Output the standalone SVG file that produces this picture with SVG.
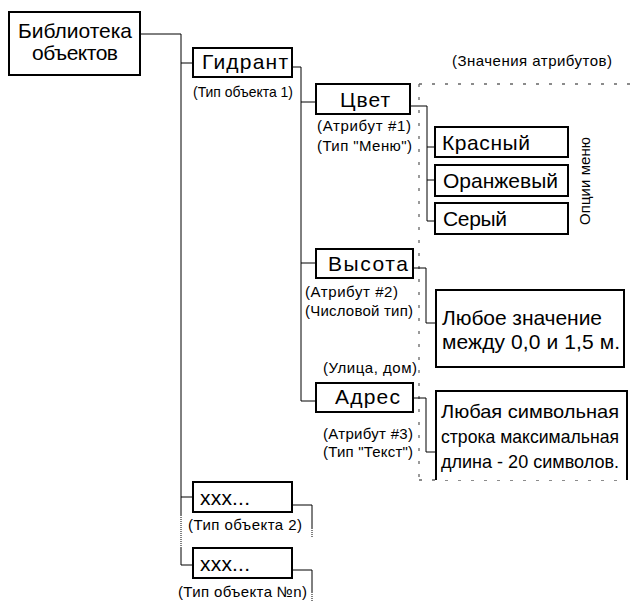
<svg xmlns="http://www.w3.org/2000/svg" width="631" height="602" viewBox="0 0 631 602">
<style>
.box{fill:#fff;stroke:#000;stroke-width:2}
.ln{fill:none;stroke:#000;stroke-width:1}
.dot{fill:none;stroke:#666;stroke-width:1.3;stroke-dasharray:3 10}
.fine{fill:none;stroke:#000;stroke-width:1;stroke-dasharray:1 1}
text{font-family:"Liberation Sans",Arial,sans-serif;fill:#000}
.big{font-size:21px}
.sm{font-size:15px}
</style>
<rect width="631" height="602" fill="#fff"/>
<g id="dotted-region">
<path class="dot" d="M419 84 H631"/>
<path class="dot" d="M419 84 V480"/>
<path class="dot" d="M419 480 H626"/>
</g>
<g id="connectors">
<path class="ln" d="M140 34 H181 V515"/>
<path class="fine" d="M181 515 V548"/>
<path class="ln" d="M181 548 V565 H193"/>
<path class="ln" d="M181 63 H193"/>
<path class="ln" d="M181 497 H193"/>
<path class="ln" d="M292 67 H301 V401 H316"/>
<path class="ln" d="M301 102 H316"/>
<path class="ln" d="M301 263 H316"/>
<path class="ln" d="M410 106 H427 V221 H435"/>
<path class="ln" d="M427 147 H435"/>
<path class="ln" d="M427 180 H435"/>
<path class="ln" d="M413 268 H426 V323 H436"/>
<path class="ln" d="M413 398 H426 V452 H436"/>
<path class="ln" d="M292 505 H312 V528"/>
<path class="fine" d="M312 528 V538"/>
<path class="ln" d="M292 570 H312 V592"/>
<path class="fine" d="M312 592 V602"/>
</g>
<g id="lib">
<rect class="box" x="9" y="12" width="131" height="63"/>
<text class="big" x="18" y="38" textLength="114">Библиотека</text>
<text class="big" x="32" y="60" textLength="86">объектов</text>
</g>
<g id="hydrant">
<rect class="box" x="193" y="48" width="99" height="29"/>
<text class="big" x="202" y="69" textLength="86">Гидрант</text>
<text class="sm" x="193" y="97" textLength="100" lengthAdjust="spacingAndGlyphs">(Тип объекта 1)</text>
</g>
<text id="attr-values" class="sm" x="452" y="66" textLength="160">(Значения атрибутов)</text>
<g id="color">
<rect class="box" x="316" y="84" width="94" height="30"/>
<text class="big" x="340" y="107" textLength="50">Цвет</text>
<text class="sm" x="317" y="131" textLength="94">(Атрибут #1)</text>
<text class="sm" x="317" y="151" textLength="95">(Тип "Меню")</text>
</g>
<g id="red">
<rect class="box" x="435" y="127" width="133" height="30"/>
<text class="big" x="442" y="150" textLength="88">Красный</text>
</g>
<g id="orange">
<rect class="box" x="435" y="165" width="133" height="31"/>
<text class="big" x="443" y="188" textLength="115">Оранжевый</text>
</g>
<g id="gray">
<rect class="box" x="435" y="203" width="133" height="31"/>
<text class="big" x="443" y="226" textLength="64">Серый</text>
</g>
<text id="menu-options" font-size="15" text-anchor="middle" textLength="88" transform="translate(590 181) rotate(-90)">Опции меню</text>
<g id="height">
<rect class="box" x="316" y="249" width="97" height="29"/>
<text class="big" x="328" y="271" textLength="80">Высота</text>
<text class="sm" x="305" y="297" textLength="93">(Атрибут #2)</text>
<text class="sm" x="305" y="316" textLength="108">(Числовой тип)</text>
</g>
<g id="range">
<rect class="box" x="436" y="290" width="188" height="77"/>
<text class="big" x="442" y="325" textLength="160">Любое значение</text>
<text class="big" x="442" y="349" textLength="178">между 0,0 и 1,5 м.</text>
</g>
<text id="street" class="sm" x="323" y="373" textLength="94">(Улица, дом)</text>
<g id="address">
<rect class="box" x="316" y="383" width="97" height="29"/>
<text class="big" x="335" y="404" textLength="65">Адрес</text>
<text class="sm" x="323" y="439" textLength="90">(Атрибут #3)</text>
<text class="sm" x="323" y="457" textLength="90">(Тип "Текст")</text>
</g>
<g id="string">
<rect x="436" y="391" width="191" height="89" fill="#fff"/>
<path d="M436 480 V391 H627 V480" fill="none" stroke="#000" stroke-width="2"/>
<text font-size="19" x="441" y="418" textLength="178" lengthAdjust="spacingAndGlyphs">Любая символьная</text>
<text font-size="18.5" x="441" y="443" textLength="178" lengthAdjust="spacingAndGlyphs">строка максимальная</text>
<text font-size="18.5" x="441" y="468" textLength="178" lengthAdjust="spacingAndGlyphs">длина - 20 символов.</text>
</g>
<g id="obj2">
<rect class="box" x="193" y="482" width="99" height="30"/>
<text class="big" x="200" y="505" textLength="50">xxx...</text>
<text class="sm" x="188" y="530" textLength="114">(Тип объекта 2)</text>
</g>
<g id="objn">
<rect class="box" x="193" y="548" width="99" height="30"/>
<text class="big" x="200" y="571" textLength="50">xxx...</text>
<text class="sm" x="178" y="597" textLength="129">(Тип объекта №n)</text>
</g>
</svg>
